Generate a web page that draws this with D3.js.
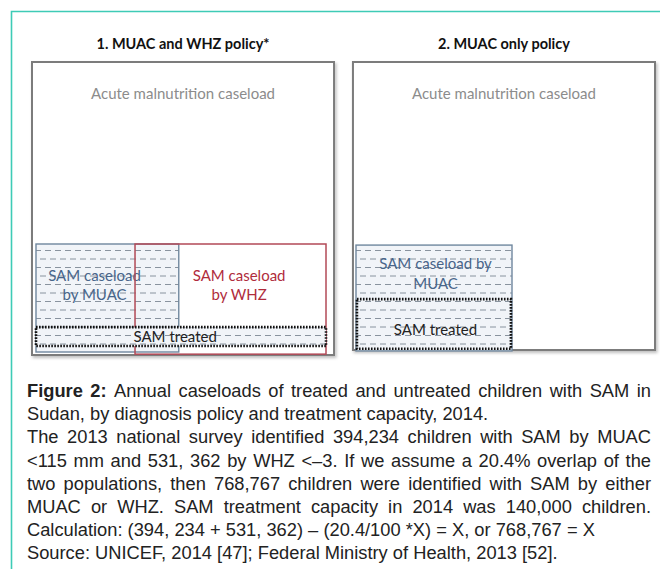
<!DOCTYPE html>
<html>
<head>
<meta charset="utf-8">
<script src="https://cdn.jsdelivr.net/npm/d3@7"></script>
<style>
  body { margin: 0; background: #fff; }
  svg { display: block; }
</style>
</head>
<body>
<div class="chart"></div>
<script>
// values from the figure
const panelTitles = ["1. MUAC and WHZ policy*", "2. MUAC only policy"];
const outerLabels = ["Acute malnutrition caseload", "Acute malnutrition caseload"];
const samByMuac = 394234;
const samByWhz = 531362;
const overlapPct = 20.4;
const samEither = 768767;
const samTreated = 140000;

const boxKeys = ["muac", "whz", "treated", "muac", "treated"];
const boxPanels = [0, 0, 0, 1, 1];
const boxLabels = [["SAM caseload", "by MUAC"], ["SAM caseload", "by WHZ"], ["SAM treated"],
  ["SAM caseload by", "MUAC"], ["SAM treated"]];

const captionLines = [
  [["Figure 2:", true], ["Annual caseloads of treated and untreated children with SAM in", false]],
  [["Sudan, by diagnosis policy and treatment capacity, 2014.", false]],
  [["The 2013 national survey identified 394,234 children with SAM by MUAC", false]],
  [["<115 mm and 531, 362 by WHZ <\u20133. If we assume a 20.4% overlap of the", false]],
  [["two populations, then 768,767 children were identified with SAM by either", false]],
  [["MUAC or WHZ. SAM treatment capacity in 2014 was 140,000 children.", false]],
  [["Calculation: (394, 234 + 531, 362) \u2013 (20.4/100 *X) = X, or 768,767 = X", false]],
  [["Source: UNICEF, 2014 [47]; Federal Ministry of Health, 2013 [52].", false]]
];
const justified = [true, false, true, true, true, true, false, false];

let width = 660, height = 569;
let font = "Lato, 'Open Sans', sans-serif";

let svg = d3.select(".chart")
  .append("svg")
  .attr("width", width)
  .attr("height", height);

let defs = svg.append("defs");

// dashed fill like the original
let pat = defs.append("pattern")
  .attr("id", "dash")
  .attr("patternUnits", "userSpaceOnUse")
  .attr("width", 10)
  .attr("height", 17);
pat.append("rect").attr("width", 10).attr("height", 17).attr("fill", "#f1f4f8");
[[0, 6, 4], [5, 11, 12.5], [-5, 1, 12.5]].forEach(l => {
  pat.append("line").attr("x1", l[0]).attr("x2", l[1]).attr("y1", l[2]).attr("y2", l[2])
    .attr("stroke", "#7d8894").attr("stroke-width", 0.9);
});

let shadow = defs.append("filter").attr("id", "shadow")
  .attr("x", "-5%").attr("y", "-5%").attr("width", "110%").attr("height", "110%");
shadow.append("feDropShadow").attr("dx", 1.5).attr("dy", 2).attr("stdDeviation", 1.5)
  .attr("flood-color", "#000").attr("flood-opacity", 0.25);

// teal frame
svg.append("path")
  .attr("d", "M11.5,569 L11.5,11.5 L660,11.5")
  .attr("fill", "none")
  .attr("stroke", "#3ecbb6")
  .attr("stroke-width", 1.6);

// panels
let panelX = d3.scaleBand().domain([0, 1]).range([32, 655]).paddingInner(0.059);
let panelTop = 62;
let panelBottom = [355, 350];

let panels = svg.selectAll(".panel")
  .data(panelTitles)
  .enter().append("g")
  .attr("class", "panel");

panels.append("text")
  .attr("x", (d, i) => panelX(i) + panelX.bandwidth() / 2)
  .attr("y", 49)
  .attr("text-anchor", "middle")
  .attr("font-family", font)
  .attr("font-weight", "bold")
  .attr("font-size", 14.5)
  .attr("fill", "#111")
  .text(d => d);

panels.append("rect")
  .attr("x", (d, i) => panelX(i))
  .attr("y", panelTop)
  .attr("width", panelX.bandwidth())
  .attr("height", (d, i) => panelBottom[i] - panelTop)
  .attr("fill", "#fff")
  .attr("stroke", "#7c7c7c")
  .attr("stroke-width", 2)
  .attr("filter", "url(#shadow)");

panels.append("text")
  .attr("x", (d, i) => panelX(i) + panelX.bandwidth() / 2)
  .attr("y", 99)
  .attr("text-anchor", "middle")
  .attr("font-family", font)
  .attr("font-size", 15)
  .attr("fill", "#8c8c8c")
  .text((d, i) => outerLabels[i]);

// inner boxes: horizontal extent on a scale of children with SAM
let overlap = overlapPct / 100 * samEither;
let leftX = d3.scaleLinear().domain([0, samEither]).range([36, 326]);
let rightX = d3.scaleLinear().domain([0, samByMuac]).range([356, 512]);
let yBox = d3.scaleLinear().domain([0, 1]).range([244, 352]);

// schematic extents of each box (in children / fraction of height)
let extents = [
  {x0: 0, x1: samByMuac * 0.96, y0: 0, y1: 1},
  {x0: samByMuac - overlap * 0.84, x1: samEither, y0: 0, y1: 1.02},
  {x0: 0, x1: samEither, y0: 0.77, y1: 0.945},
  {x0: 0, x1: samByMuac, y0: 0.01, y1: 0.99},
  {x0: 0.006 * samByMuac, x1: samByMuac * 0.993, y0: 0.51, y1: 0.97}
];

let boxes = boxKeys.map((k, i) => {
  let xs = boxPanels[i] ? rightX : leftX;
  let e = extents[i];
  return {key: k, panel: boxPanels[i], labels: boxLabels[i],
    x: xs(e.x0), w: xs(e.x1) - xs(e.x0), y: yBox(e.y0), h: yBox(e.y1) - yBox(e.y0),
    value: k === "muac" ? samByMuac : k === "whz" ? samByWhz : samTreated};
});

let styles = {
  muac: {fill: "url(#dash)", stroke: "#6f879e", width: 1.4, dash: null, color: "#48658a"},
  whz: {fill: "none", stroke: "#b24a57", width: 1.5, dash: null, color: "#b02c3c"},
  treated: {fill: "url(#dash)", stroke: "#111", width: 2.6, dash: "1.6,1.4", color: "#222"}
};

let boxG = svg.selectAll(".box")
  .data(boxes)
  .enter().append("g")
  .attr("class", "box");

boxG.append("rect")
  .attr("x", d => d.x)
  .attr("y", d => d.y)
  .attr("width", d => d.w)
  .attr("height", d => d.h)
  .attr("fill", d => styles[d.key].fill)
  .attr("stroke", d => styles[d.key].stroke)
  .attr("stroke-width", d => styles[d.key].width)
  .attr("stroke-dasharray", d => styles[d.key].dash);

// label rows (fraction of box height in yBox) and centre (fraction of box width)
let labelPos = [
  {cx: 0.41, y: [0.30, 0.475]},
  {cx: 0.545, y: [0.30, 0.475]},
  {cx: 0.48, y: [0.86]},
  {cx: 0.51, y: [0.185, 0.37]},
  {cx: 0.51, y: [0.80]}
];

boxG.each(function (d, i) {
  let g = d3.select(this);
  let lp = labelPos[i];
  d.labels.forEach((t, j) => {
    g.append("text")
      .attr("x", d.x + d.w * lp.cx)
      .attr("y", yBox(lp.y[j]) + 5)
      .attr("text-anchor", "middle")
      .attr("font-family", font)
      .attr("font-size", 15)
      .attr("fill", styles[d.key].color)
      .text(t);
  });
});

// caption, justified by hand
let capX0 = 27, capX1 = 651, capY = 397, lineH = 23.2;
let cap = svg.append("g")
  .attr("font-family", "'Liberation Sans', Arial, sans-serif")
  .attr("font-size", 18.3)
  .attr("fill", "#222");

captionLines.forEach((segs, li) => {
  let words = [];
  segs.forEach(s => s[0].split(" ").forEach(w => words.push({t: w, b: s[1]})));
  let y = capY + li * lineH;
  let nodes = words.map(w => cap.append("text")
    .attr("y", y)
    .attr("font-weight", w.b ? "bold" : null)
    .text(w.t));
  let lens = nodes.map(n => n.node().getComputedTextLength());
  let total = d3.sum(lens);
  let space = 18.3 * 0.278;
  if (justified[li]) space = (capX1 - capX0 - total) / (words.length - 1);
  let x = capX0;
  nodes.forEach((n, k) => {
    n.attr("x", x);
    x += lens[k] + space;
  });
});
</script>
</body>
</html>
